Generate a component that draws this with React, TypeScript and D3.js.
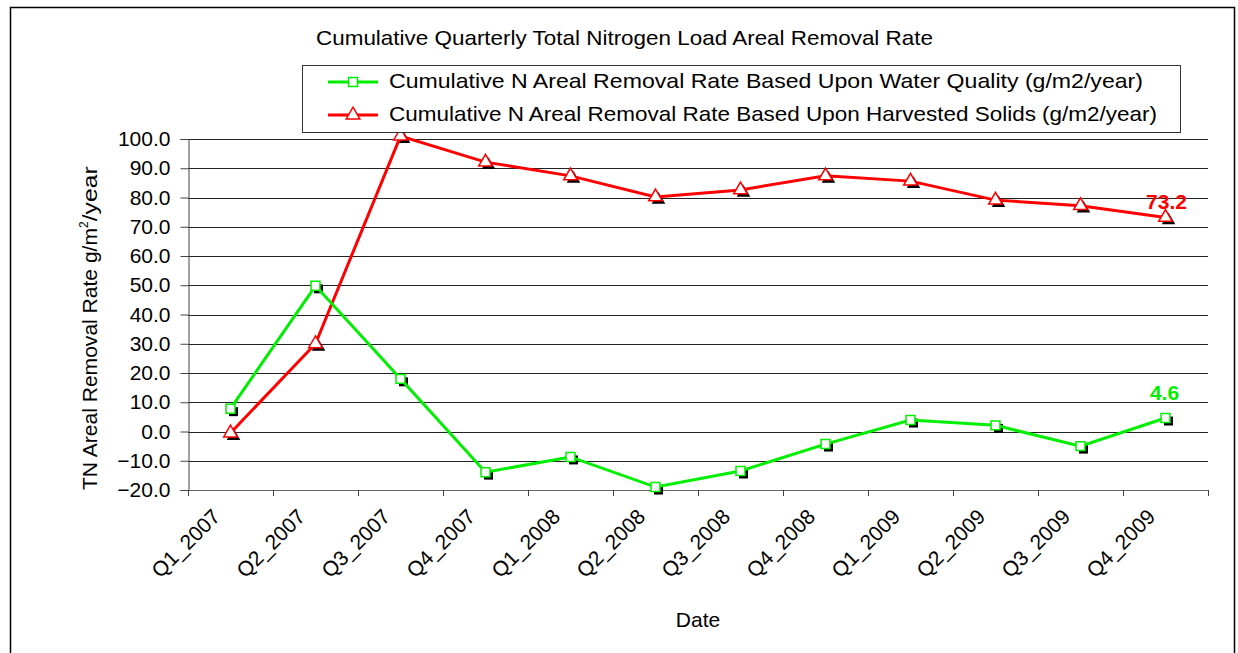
import React, { useEffect, useRef } from 'react';
import * as d3 from 'd3';

const quarters = [
  'Q1_2007', 'Q2_2007', 'Q3_2007', 'Q4_2007',
  'Q1_2008', 'Q2_2008', 'Q3_2008', 'Q4_2008',
  'Q1_2009', 'Q2_2009', 'Q3_2009', 'Q4_2009',
];
const waterQuality = [7.8, 49.8, 18.0, -13.9, -8.7, -19.0, -13.5, -4.3, 3.9, 2.1, -5.0, 4.6];
const harvestedSolids = [-0.5, 30.0, 101.0, 92.1, 87.4, 80.2, 82.6, 87.4, 85.6, 79.1, 77.2, 73.2];
const yTicks = [-20, -10, 0, 10, 20, 30, 40, 50, 60, 70, 80, 90, 100];

const seriesNames = [
  'Cumulative N Areal Removal Rate Based Upon Water Quality (g/m2/year)',
  'Cumulative N Areal Removal Rate Based Upon Harvested Solids (g/m2/year)',
];

const GREEN = '#00ee00';
const RED = '#ff0000';

const App = () => {
  const ref = useRef<SVGSVGElement>(null);

  useEffect(() => {
    const svg = d3.select(ref.current);
    svg.selectAll('*').remove();

    const left = 188, right = 1208, top = 139, bottom = 490;
    const font = 'Arial, Liberation Sans, sans-serif';

    const x = d3.scaleBand().domain(quarters).range([left, right]);
    const y = d3.scaleLinear().domain([-20, 100]).range([bottom, top]);
    const cx = (q: string) => (x(q) as number) + x.bandwidth() / 2;

    // outer frame
    svg.append('rect')
      .attr('x', 10.5).attr('y', 7.5).attr('width', 1224).attr('height', 700)
      .attr('fill', 'white').attr('stroke', 'black').attr('stroke-width', 1.5);

    // title
    svg.append('text')
      .attr('x', 316).attr('y', 45)
      .attr('textLength', 617).attr('lengthAdjust', 'spacingAndGlyphs')
      .attr('font-family', font).attr('font-size', 21).text('Cumulative Quarterly Total Nitrogen Load Areal Removal Rate');

    // gridlines
    svg.append('g').selectAll('line').data(yTicks.filter(t => t > -20)).enter().append('line')
      .attr('x1', left).attr('x2', right)
      .attr('y1', d => Math.round(y(d)) + 0.5).attr('y2', d => Math.round(y(d)) + 0.5)
      .attr('stroke', '#222').attr('stroke-width', 1);

    // y axis
    const yAxis = d3.axisLeft(y).tickValues(yTicks).tickSize(8).tickPadding(10).tickFormat(d3.format('.1f'));
    const gy = svg.append('g').attr('transform', `translate(${left + 0.5},0)`).call(yAxis);
    gy.selectAll('text').attr('font-family', font).attr('font-size', 21).attr('fill', 'black');
    gy.selectAll('line').attr('stroke', '#444');
    gy.select('path').attr('stroke', '#444');

    // x axis with ticks at band boundaries
    svg.append('line').attr('x1', left).attr('x2', right)
      .attr('y1', bottom + 0.5).attr('y2', bottom + 0.5).attr('stroke', '#666');
    const bounds = quarters.map(q => x(q) as number).concat([right]);
    svg.append('g').selectAll('line').data(bounds).enter().append('line')
      .attr('x1', d => Math.round(d) + 0.5).attr('x2', d => Math.round(d) + 0.5)
      .attr('y1', bottom).attr('y2', bottom + 6).attr('stroke', '#444');

    svg.append('g').selectAll('text').data(quarters).enter().append('text')
      .attr('transform', d => `translate(${cx(d) - 13},${bottom + 24}) rotate(-45)`)
      .attr('text-anchor', 'end').attr('dominant-baseline', 'middle')
      .attr('font-family', font).attr('font-size', 21).text(d => d);

    // axis titles
    svg.append('text').attr('x', 698).attr('y', 627).attr('text-anchor', 'middle')
      .attr('font-family', font).attr('font-size', 21).text('Date');

    const yt = svg.append('text')
      .attr('transform', `translate(97,490) rotate(-90)`)
      .attr('font-family', font).attr('font-size', 21);
    yt.append('tspan').attr('textLength', 262).attr('lengthAdjust', 'spacingAndGlyphs').text('TN Areal Removal Rate g/m');
    yt.append('tspan').attr('font-size', 12).attr('dy', -9).text('2');
    yt.append('tspan').attr('dy', 9).attr('textLength', 55).attr('lengthAdjust', 'spacingAndGlyphs').text('/year');

    const line = d3.line<number>().x((_, i) => cx(quarters[i])).y(d => y(d));
    const sq = d3.symbol().type(d3.symbolSquare).size(80);
    const tri = d3.symbol().type(d3.symbolTriangle).size(80);

    const drawSeries = (vals: number[], color: string, shape: any) => {
      // shadows
      svg.append('g').selectAll('path').data(vals).enter().append('path')
        .attr('d', shape)
        .attr('transform', (d, i) => `translate(${cx(quarters[i]) + 3},${y(d) + 3})`)
        .attr('fill', 'black');
      svg.append('path').datum(vals).attr('d', line)
        .attr('fill', 'none').attr('stroke', color).attr('stroke-width', 3);
      svg.append('g').selectAll('path').data(vals).enter().append('path')
        .attr('d', shape)
        .attr('transform', (d, i) => `translate(${cx(quarters[i])},${y(d)})`)
        .attr('fill', 'white').attr('stroke', color).attr('stroke-width', 1.5);
    };
    drawSeries(harvestedSolids, RED, tri);
    drawSeries(waterQuality, GREEN, sq);

    // end labels
    const lastQ = quarters[quarters.length - 1];
    svg.append('text')
      .attr('x', cx(lastQ) + 1).attr('y', y(harvestedSolids[11]) - 8).attr('text-anchor', 'middle')
      .attr('font-family', font).attr('font-size', 21).attr('font-weight', 'bold')
      .attr('fill', RED).text(harvestedSolids[11].toFixed(1));
    svg.append('text')
      .attr('x', cx(lastQ) - 1).attr('y', y(waterQuality[11]) - 18).attr('text-anchor', 'middle')
      .attr('font-family', font).attr('font-size', 21).attr('font-weight', 'bold')
      .attr('fill', GREEN).text(waterQuality[11].toFixed(1));

    // legend
    const lg = svg.append('g');
    lg.append('rect').attr('x', 302.5).attr('y', 65.5).attr('width', 878).attr('height', 67)
      .attr('fill', 'white').attr('stroke', '#333');
    const legendLens = [754, 768];
    [[GREEN, sq], [RED, tri]].forEach(([color, shape], i) => {
      const ly = 82 + i * 33;
      lg.append('line').attr('x1', 328).attr('x2', 378).attr('y1', ly).attr('y2', ly)
        .attr('stroke', color as string).attr('stroke-width', 3);
      lg.append('path').attr('d', shape as any).attr('transform', `translate(353,${ly})`)
        .attr('fill', 'white').attr('stroke', color as string).attr('stroke-width', 1.5);
      lg.append('text').attr('x', 389).attr('y', 87.5 + i * 33)
        .attr('textLength', legendLens[i]).attr('lengthAdjust', 'spacingAndGlyphs')
        .attr('font-family', font).attr('font-size', 21).text(seriesNames[i]);
    });
  }, []);

  return <svg ref={ref} width={1238} height={653} style={{ position: 'absolute', left: 0, top: 0 }} />;
};

export default App;
